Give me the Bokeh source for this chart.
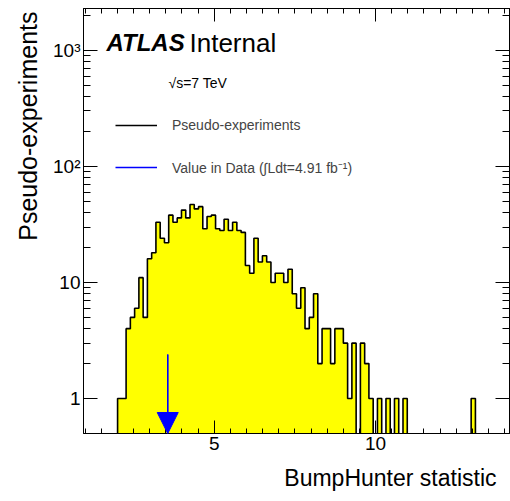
import numpy as np
from bokeh.plotting import figure
from bokeh.models import (FixedTicker, LinearAxis, LogAxis, Label, Legend, LegendItem,
                          Arrow, NormalHead, Title)
from bokeh.embed import file_html
from bokeh.resources import INLINE

# ---- data -------------------------------------------------------------
x_min, x_max = 0.95, 14.15          # histogram range (100 bins)
n_bins = 100
counts = [0, 0, 0, 0, 0, 0, 0, 0, 1, 1,
          4, 5, 6, 11, 5, 16, 18, 33, 24, 22,
          38, 33, 36, 42, 36, 47, 43, 45, 29, 37,
          38, 29, 28, 35, 28, 33, 28, 27, 14, 12,
          24, 15, 17, 15, 10, 12, 12, 10, 13, 8,
          6, 9, 4, 5, 8, 2, 4, 4, 2, 4,
          4, 3, 1, 3, 0, 3, 2, 1, 0, 1,
          0, 1, 0, 1, 0, 1, 0, 0, 0, 0,
          0, 0, 0, 0, 0, 0, 0, 0, 0, 0,
          0, 1, 0, 0, 0, 0, 0, 0, 0, 0]
data_value = 3.56                    # BumpHunter statistic observed in data
arrow_top = 2.4
y_min, y_max = 0.5, 2290.0
x_major = [5, 10]
y_major = [1, 10, 100, 1000]
y_labels = {1: "1", 10: "10", 100: "10²", 1000: "10³"}
legend_labels = ["Pseudo-experiments", "Value in Data (∫Ldt=4.91 fb⁻¹)"]
x_title = "BumpHunter statistic"
y_title = "Pseudo-experiments"

FONT = "Liberation Sans"

# ---- derived ------------------------------------------------------------
counts = np.array(counts, dtype=float)
edges = np.linspace(x_min, x_max, n_bins + 1)
floor = 1e-3
hs = np.where(counts > 0, counts, floor)
step_x = np.repeat(edges, 2)[1:-1]
step_y = np.repeat(hs, 2)
fill_x = np.concatenate([step_x, [edges[-1], edges[0]]])
fill_y = np.concatenate([step_y, [floor, floor]])

x_minor = list(np.arange(1.0, 14.01, 0.5))
y_minor = [m * d for d in (1, 10, 100, 1000) for m in range(2, 10) if m * d < y_max]

p = figure(width=510, height=501, x_range=(x_min, x_max), y_range=(y_min, y_max),
           y_axis_type="log", output_backend="svg", toolbar_location=None,
           min_border_left=83, min_border_right=1, min_border_top=8, min_border_bottom=68)
p.grid.visible = False
p.outline_line_color = "black"
p.outline_line_width = 1
p.background_fill_color = "white"
p.border_fill_color = "white"

# histogram fill + outline
p.patch(fill_x, fill_y, fill_color="#ffff00", line_color=None)
outline = p.line(step_x, step_y, line_color="black", line_width=1.6)

# data value arrow
shaft = p.segment(x0=[data_value], y0=[arrow_top], x1=[data_value], y1=[y_min],
                  line_color="blue", line_width=1.3)
p.add_layout(Arrow(end=NormalHead(size=21, fill_color="blue", line_color="blue", line_width=1),
                   x_start=data_value, y_start=arrow_top, x_end=data_value, y_end=y_min,
                   line_color="blue", line_width=1.3))

# axes
def tick_style(ax, major_len, minor_len):
    ax.axis_line_color = "black"
    ax.major_tick_in = major_len
    ax.major_tick_out = 0
    ax.minor_tick_in = minor_len
    ax.minor_tick_out = 0
    ax.major_tick_line_color = "black"
    ax.minor_tick_line_color = "black"
    ax.major_label_text_font = FONT
    ax.major_label_text_color = "black"
    ax.major_label_text_font_size = "19px"

xa = p.xaxis[0]
xa.ticker = FixedTicker(ticks=x_major, minor_ticks=x_minor)
tick_style(xa, 13, 5)
xa.major_label_standoff = 3

ya = p.yaxis[0]
ya.ticker = FixedTicker(ticks=y_major, minor_ticks=y_minor)
tick_style(ya, 14, 7)
ya.major_label_standoff = 3
ya.major_label_overrides = y_labels

# mirrored tick marks (no labels): short ticks and long ticks as minor-only axes
def mirror(ax):
    ax.major_label_standoff = 0
    return ax

top_short = mirror(LinearAxis(ticker=FixedTicker(ticks=[], minor_ticks=x_minor)))
tick_style(top_short, 0, 5)
p.add_layout(top_short, "above")
top_long = mirror(LinearAxis(ticker=FixedTicker(ticks=[], minor_ticks=x_major)))
tick_style(top_long, 0, 13)
p.add_layout(top_long, "above")
right_short = mirror(LogAxis(ticker=FixedTicker(ticks=[], minor_ticks=y_minor)))
tick_style(right_short, 0, 7)
p.add_layout(right_short, "right")
right_long = mirror(LogAxis(ticker=FixedTicker(ticks=[], minor_ticks=y_major)))
tick_style(right_long, 0, 14)
p.add_layout(right_long, "right")

# axis titles (ROOT style: aligned to the end of the axis)
p.add_layout(Title(text=x_title, align="right", text_font=FONT,
                   text_font_style="normal", text_font_size="23px", text_color="black",
                   standoff=20, offset=13), "below")
p.add_layout(Title(text=y_title, align="right", text_font=FONT,
                   text_font_style="normal", text_font_size="25px", text_color="black",
                   standoff=18, offset=3), "left")

# ATLAS labels
p.add_layout(Label(x=23, y=391, x_units="screen", y_units="screen", text="ATLAS",
                   text_font=FONT, text_font_style="bold italic", text_font_size="24px",
                   text_baseline="alphabetic", text_color="black"))
p.add_layout(Label(x=106, y=391, x_units="screen", y_units="screen", text="Internal",
                   text_font=FONT, text_font_size="26px",
                   text_baseline="alphabetic", text_color="black"))
p.add_layout(Label(x=85, y=351, x_units="screen", y_units="screen", text="√s=7 TeV",
                   text_font=FONT, text_font_size="14px",
                   text_baseline="alphabetic", text_color="black"))

legend = Legend(items=[LegendItem(label=legend_labels[0], renderers=[outline]),
                       LegendItem(label=legend_labels[1], renderers=[shaft])],
                location=(32, 256), glyph_width=42, glyph_height=20, label_height=20,
                spacing=22, label_standoff=15, padding=0, margin=0,
                border_line_color=None, background_fill_alpha=0,
                label_text_font=FONT, label_text_font_size="14px")
p.add_layout(legend)

open("out.html", "w").write(file_html(p, INLINE))
